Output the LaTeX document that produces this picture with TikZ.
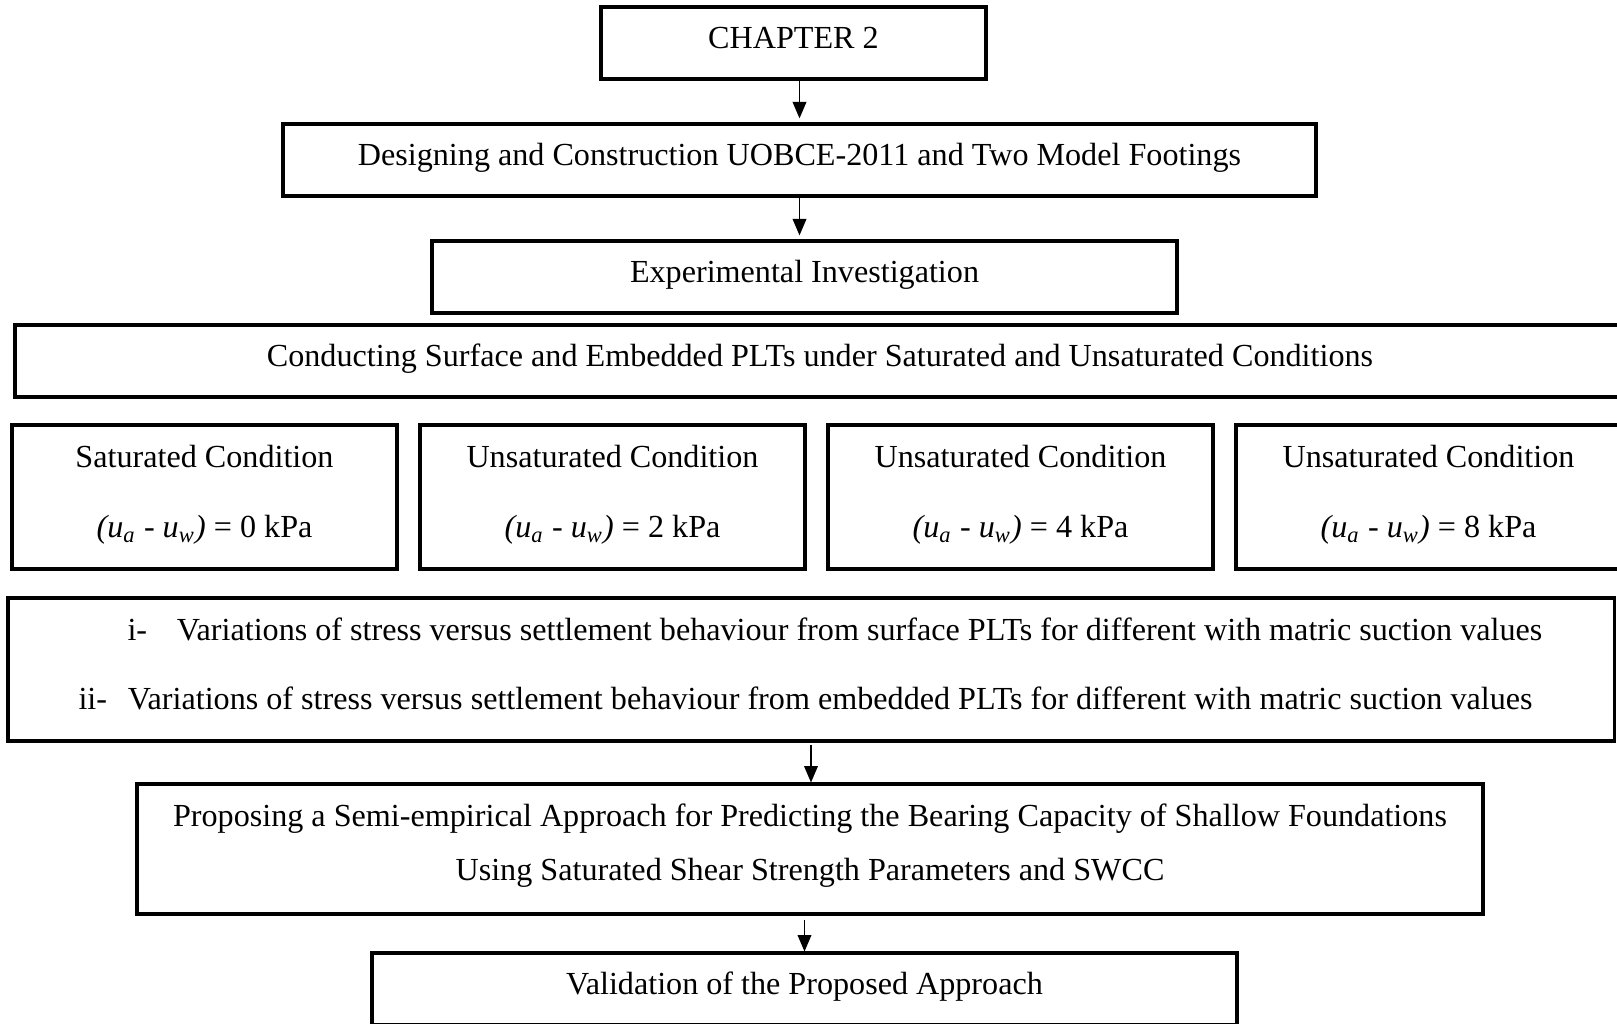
\documentclass[tikz,border=0pt]{standalone}
\usepackage{fontspec}
\setmainfont{Liberation Serif}
\usetikzlibrary{arrows.meta}
\newcommand{\pxu}{0.364pt}
\newcommand{\suc}[1]{\textit{(u\textsubscript{a}} - \textit{u\textsubscript{w})} = #1 kPa}

\tikzset{
  box/.style={draw, line width=1.1pt, rectangle, inner sep=0pt, align=center, font=\fontsize{11.7}{14}\selectfont},
  onebox/.style={box, minimum height=72*\pxu, text height=9pt, text depth=4.8pt},
  twobox/.style={box, text depth=4.4pt},
  txt/.style={inner sep=0pt, font=\fontsize{11.7}{14}\selectfont},
  arr/.style={-{Triangle[length=6pt,width=5pt]}, line width=0.5pt},
}

\begin{document}
\begin{tikzpicture}[x=\pxu, y=-\pxu]
\useasboundingbox (0,0) rectangle (1617,1024);
\clip (0,0) rectangle (1617,1024);

\node[onebox, minimum width=385*\pxu] (ch) at (793.5,43) {CHAPTER 2};
\node[onebox, minimum width=1033*\pxu] (dsg) at (799.5,160) {Designing and Construction UOBCE-2011 and Two Model Footings};
\node[onebox, minimum width=745*\pxu] (exp) at (804.5,277) {Experimental Investigation};
\node[onebox, minimum width=1610*\pxu] (cnd) at (820,361) {Conducting Surface and Embedded PLTs under Saturated and Unsaturated Conditions};

% suction levels
\foreach \xc/\lab/\val/\nm in {204.5/Saturated/0/sat, 612.5/Unsaturated/2/unsa, 1020.5/Unsaturated/4/unsb, 1428.5/Unsaturated/8/unsc}
  \node[twobox, minimum width=385*\pxu, minimum height=144*\pxu] (\nm) at (\xc,497) {\lab{} Condition\\[11.5pt]\suc{\val}};

\node[box, minimum width=1606*\pxu, minimum height=143*\pxu] (var) at (811,669.5) {};
\node[txt, anchor=west] (vara) at (127,629) {\makebox[18pt][l]{i-}Variations of stress versus settlement behaviour from surface PLTs for different with matric suction values};
\node[txt, anchor=west] (varb) at (78,698) {\makebox[18pt][l]{ii-}Variations of stress versus settlement behaviour from embedded PLTs for different with matric suction values};

\node[twobox, minimum width=1346*\pxu, minimum height=130*\pxu, text depth=4.8pt] (prop) at (810,849) {Proposing a Semi-empirical Approach for Predicting the Bearing Capacity of Shallow Foundations\\[5.7pt]Using Saturated Shear Strength Parameters and SWCC};
\node[onebox, minimum width=865*\pxu] (val) at (804.5,989) {Validation of the Proposed Approach};

\draw[arr, shorten >=1.5pt] (ch.south -| dsg.north) -- (dsg.north);
\draw[arr, shorten >=1.5pt] (dsg.south) -- (dsg.south |- exp.north);
\draw[arr, shorten <=1pt] (var.south) -- (var.south |- prop.north);
\draw[arr, shorten <=1.5pt] (val.north |- prop.south) -- (val.north);
\end{tikzpicture}
\end{document}
